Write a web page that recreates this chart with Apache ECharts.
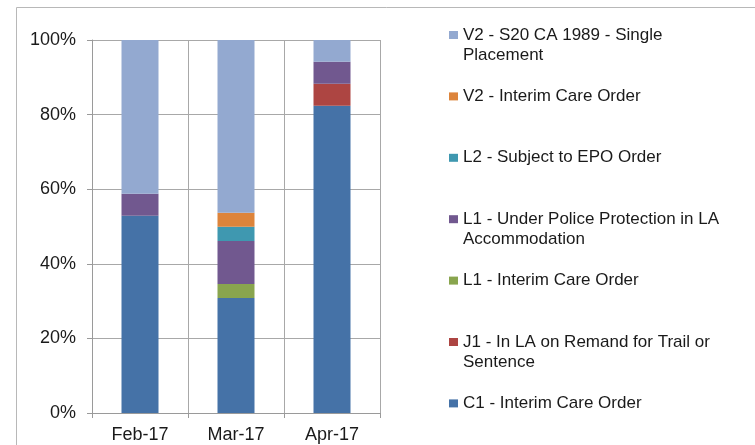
<!DOCTYPE html>
<html lang="en">
<head>
  <meta charset="UTF-8">
  <title>placements by legal status</title>
  <style>
    html, body { margin: 0; padding: 0; background: #fff; }
    .canvas_box { width: 755px; height: 445px; }
  </style>
  <script src="https://cdn.jsdelivr.net/npm/echarts@6/dist/echarts.min.js"></script>
</head>
<body>
<div id="myChart" class="canvas_box"></div>
<script>
// values, in percent of each month
var months = ['Feb-17', 'Mar-17', 'Apr-17'];
var c1Ico = [52.9, 30.8, 82.4];
var j1Remand = [0, 0, 5.9];
var l1Ico = [0, 3.8, 0];
var l1Police = [5.9, 11.5, 5.9];
var l2Epo = [0, 3.8, 0];
var v2Ico = [0, 3.8, 0];
var v2S20 = [41.2, 46.3, 5.8];
var yTicks = [0, 20, 40, 60, 80, 100];

// legend labels, first line is the one next to the square
var legendLines = {
  'V2 - S20 CA 1989 - Single Placement': ['V2 - S20 CA 1989 - Single', 'Placement'],
  'V2 - Interim Care Order': ['V2 - Interim Care Order', '\u00a0'],
  'L2 - Subject to EPO Order': ['L2 - Subject to EPO Order', '\u00a0'],
  'L1 - Under Police Protection in LA Accommodation': ['L1 - Under Police Protection in LA', 'Accommodation'],
  'L1 - Interim Care Order': ['L1 - Interim Care Order', '\u00a0'],
  'J1 - In LA on Remand for Trail or Sentence': ['J1 - In LA on Remand for Trail or', 'Sentence'],
  'C1 - Interim Care Order': ['C1 - Interim Care Order', '\u00a0']
};

var font = '"Liberation Sans", Arial, sans-serif';

function bar(name, data, color) {
  return {
    type: 'bar',
    name: name,
    stack: 'total',
    data: data,
    barWidth: 37,
    itemStyle: { color: color },
    emphasis: { disabled: true }
  };
}

var myChart = echarts.init(document.getElementById('myChart'));
var option = {
  animation: false,
  textStyle: { fontFamily: font },
  graphic: [{
    type: 'rect',
    shape: { x: 16.5, y: 7.5, width: 760, height: 460 },
    style: { fill: 'none', stroke: '#b8b8b8', lineWidth: 1 },
    silent: true
  }],
  grid: { left: 92, right: 375, top: 40, bottom: 32 },
  legend: {
    orient: 'vertical',
    left: 449,
    top: 5,
    padding: 0,
    itemGap: 1.4,
    itemWidth: 9,
    itemHeight: 8,
    icon: 'rect',
    selectedMode: false,
    data: [
      'V2 - S20 CA 1989 - Single Placement',
      'V2 - Interim Care Order',
      'L2 - Subject to EPO Order',
      'L1 - Under Police Protection in LA Accommodation',
      'L1 - Interim Care Order',
      'J1 - In LA on Remand for Trail or Sentence',
      'C1 - Interim Care Order'
    ],
    formatter: function (name) {
      var l = legendLines[name];
      return '\u00a0\n' + l[0] + '\n' + l[1];
    },
    textStyle: { fontSize: 17, lineHeight: 20, color: '#1a1a1a', fontFamily: font }
  },
  xAxis: {
    type: 'category',
    data: months,
    axisLine: { lineStyle: { color: '#9a9a9a', width: 1 } },
    axisTick: { show: true, length: 5, lineStyle: { color: '#9a9a9a' } },
    axisLabel: { fontSize: 18, color: '#1a1a1a', margin: 13 },
    splitLine: { show: true, lineStyle: { color: '#a8a8a8', width: 1 } }
  },
  yAxis: {
    type: 'value',
    min: yTicks[0],
    max: yTicks[yTicks.length - 1],
    interval: 20,
    axisLine: { show: true, lineStyle: { color: '#9a9a9a', width: 1 } },
    axisTick: { show: true, length: 5, lineStyle: { color: '#9a9a9a' } },
    axisLabel: { fontSize: 18, color: '#1a1a1a', margin: 16, formatter: '{value}%' },
    splitLine: { show: true, lineStyle: { color: '#a8a8a8', width: 1 } }
  },
  series: [
    bar('C1 - Interim Care Order', c1Ico, '#4572a7'),
    bar('J1 - In LA on Remand for Trail or Sentence', j1Remand, '#ad4542'),
    bar('L1 - Interim Care Order', l1Ico, '#89a54e'),
    bar('L1 - Under Police Protection in LA Accommodation', l1Police, '#71588f'),
    bar('L2 - Subject to EPO Order', l2Epo, '#3f98b0'),
    bar('V2 - Interim Care Order', v2Ico, '#dd843b'),
    bar('V2 - S20 CA 1989 - Single Placement', v2S20, '#93a9d0')
  ]
};
myChart.setOption(option);
</script>
</body>
</html>
